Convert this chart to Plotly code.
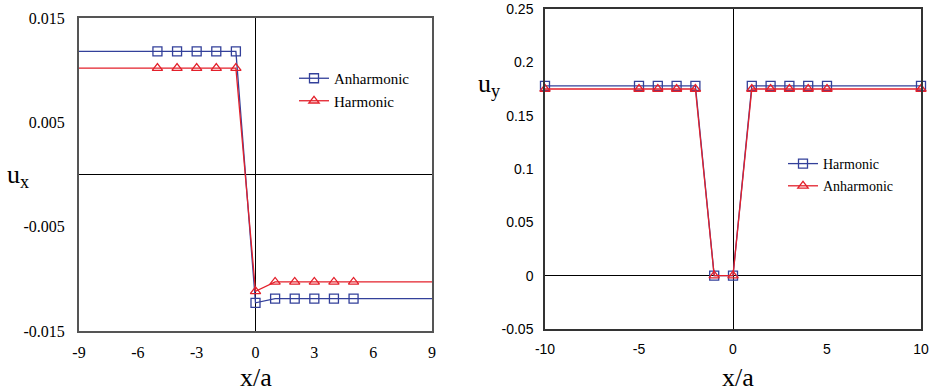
import plotly.graph_objects as go

# ---- data ----
x_pts = [-10, -5, -4, -3, -2, -1, 0, 1, 2, 3, 4, 5, 10]
ux_anharmonic = [0.0118, 0.0118, 0.0118, 0.0118, 0.0118, 0.0118, -0.0123,
                 -0.0119, -0.0119, -0.0119, -0.0119, -0.0119, -0.0119]
ux_harmonic = [0.0102, 0.0102, 0.0102, 0.0102, 0.0102, 0.0102, -0.0112,
               -0.0103, -0.0103, -0.0103, -0.0103, -0.0103, -0.0103]
uy_harmonic = [0.178, 0.178, 0.178, 0.178, 0.178, 0.0, 0.0,
               0.178, 0.178, 0.178, 0.178, 0.178, 0.178]
uy_anharmonic = [0.175, 0.175, 0.175, 0.175, 0.175, 0.0, 0.0,
                 0.175, 0.175, 0.175, 0.175, 0.175, 0.175]

left_xticks = [-9, -6, -3, 0, 3, 6, 9]
left_xlabels = ["-9", "-6", "-3", "0", "3", "6", "9"]
left_yticks = [0.015, 0.005, -0.005, -0.015]
left_ylabels = ["0.015", "0.005", "-0.005", "-0.015"]
right_xticks = [-10, -5, 0, 5, 10]
right_xlabels = ["-10", "-5", "0", "5", "10"]
right_yticks = [0.25, 0.2, 0.15, 0.1, 0.05, 0, -0.05]
right_ylabels = ["0.25", "0.2", "0.15", "0.1", "0.05", "0", "-0.05"]

BLUE = "#33409A"
RED = "#E3202B"
SERIF = "Liberation Serif, Times New Roman, serif"
SANS = "Liberation Sans, Arial, sans-serif"
W, H = 936, 391

L_range_x = [-9, 9]
L_range_y = [-0.015, 0.015]
R_range_x = [-10, 10]
R_range_y = [-0.05, 0.25]

L_dom_x = [79 / W, 432 / W]
L_dom_y = [1 - 331 / H, 1 - 18 / H]
R_dom_x = [545 / W, 921 / W]
R_dom_y = [1 - 329 / H, 1 - 9 / H]


def frac(v, rng, dom):
    return dom[0] + (v - rng[0]) / (rng[1] - rng[0]) * (dom[1] - dom[0])


fig = go.Figure()

fig.add_trace(go.Scatter(x=x_pts, y=ux_anharmonic, name="Anharmonic", mode="lines+markers",
                         line=dict(color=BLUE, width=1.3),
                         marker=dict(symbol="square-open", size=9, color=BLUE, line=dict(width=1.3)),
                         xaxis="x", yaxis="y", legend="legend", legendgroup="a"))
fig.add_trace(go.Scatter(x=x_pts, y=ux_harmonic, name="Harmonic", mode="lines+markers",
                         line=dict(color=RED, width=1.3),
                         marker=dict(symbol="triangle-up-open", size=9, color=RED, line=dict(width=1.3)),
                         xaxis="x", yaxis="y", legend="legend", legendgroup="b"))
fig.add_trace(go.Scatter(x=x_pts, y=uy_harmonic, name="Harmonic", mode="lines+markers",
                         line=dict(color=BLUE, width=1.3), cliponaxis=False,
                         marker=dict(symbol="square-open", size=9, color=BLUE, line=dict(width=1.3)),
                         xaxis="x2", yaxis="y2", legend="legend2", legendgroup="c"))
fig.add_trace(go.Scatter(x=x_pts, y=uy_anharmonic, name="Anharmonic", mode="lines+markers",
                         line=dict(color=RED, width=1.3), cliponaxis=False,
                         marker=dict(symbol="triangle-up-open", size=9, color=RED, line=dict(width=1.3)),
                         xaxis="x2", yaxis="y2", legend="legend2", legendgroup="d"))

frame_common = dict(showgrid=False, showline=True, mirror=True, ticks="", automargin=False,
                    zeroline=True, zerolinecolor="black", zerolinewidth=1.3)
tick_common = dict(ticks="outside", tickcolor="black", tickwidth=1, automargin=False,
                   showticklabels=False, showline=False, showgrid=False, zeroline=False)

fig.update_layout(
    width=W, height=H, margin=dict(l=0, r=0, t=0, b=0, autoexpand=False),
    paper_bgcolor="white", plot_bgcolor="white",
    xaxis=dict(domain=L_dom_x, range=L_range_x, anchor="y", tickvals=left_xticks,
               ticktext=left_xlabels, linecolor="#555555", linewidth=2, ticklabelstandoff=6,
               tickfont=dict(family=SERIF, size=16, color="black"), **frame_common),
    yaxis=dict(domain=L_dom_y, range=L_range_y, anchor="x", tickvals=left_yticks,
               ticktext=left_ylabels, linecolor="#555555", linewidth=2, ticklabelstandoff=9,
               tickfont=dict(family=SERIF, size=16, color="black"), **frame_common),
    xaxis2=dict(domain=R_dom_x, range=R_range_x, anchor="y2", tickvals=right_xticks,
                ticktext=right_xlabels, linecolor="#333333", linewidth=1.5, ticklabelstandoff=6,
                tickfont=dict(family=SANS, size=14, color="black"), **frame_common),
    yaxis2=dict(domain=R_dom_y, range=R_range_y, anchor="x2", tickvals=right_yticks,
                ticktext=right_ylabels, linecolor="#333333", linewidth=1.5, ticklabelstandoff=7,
                tickfont=dict(family=SANS, size=14, color="black"), **frame_common),
    # tick marks on the zero lines
    xaxis3=dict(overlaying="x", anchor="free", domain=L_dom_x, range=L_range_x,
                position=frac(0, L_range_y, L_dom_y), tickvals=[-6, -3, 3, 6],
                ticklen=5, **tick_common),
    yaxis3=dict(overlaying="y", anchor="free", domain=L_dom_y, range=L_range_y,
                position=frac(0, L_range_x, L_dom_x), tickvals=[0.005, -0.005],
                ticklen=5, **tick_common),
    xaxis4=dict(overlaying="x2", anchor="free", domain=R_dom_x, range=R_range_x,
                position=frac(0, R_range_y, R_dom_y), tickvals=[-5, 5],
                ticklen=4, **tick_common),
    yaxis4=dict(overlaying="y2", anchor="free", domain=R_dom_y, range=R_range_y,
                position=frac(0, R_range_x, R_dom_x), tickvals=[0.2, 0.15, 0.1, 0.05],
                ticklen=4, **tick_common),
    legend=dict(x=294 / W, y=1 - 62 / H, xanchor="left", yanchor="top",
                bgcolor="rgba(0,0,0,0)", tracegroupgap=0,
                font=dict(family=SERIF, size=15, color="black")),
    legend2=dict(x=783 / W, y=1 - 148 / H, xanchor="left", yanchor="top",
                 bgcolor="rgba(0,0,0,0)", tracegroupgap=1,
                 font=dict(family=SERIF, size=14, color="black")),
    annotations=[
        dict(text="x/a", x=256 / W, y=1 - 377 / H, xref="paper", yref="paper",
             xanchor="center", yanchor="middle",
             showarrow=False, font=dict(family=SERIF, size=26, color="black")),
        dict(text="x/a", x=738 / W, y=1 - 377 / H, xref="paper", yref="paper",
             xanchor="center", yanchor="middle",
             showarrow=False, font=dict(family=SERIF, size=26, color="black")),
        dict(text="u<sub>x</sub>", x=18 / W, y=1 - 176 / H, xref="paper", yref="paper",
             xanchor="center", yanchor="middle",
             showarrow=False, font=dict(family=SERIF, size=26, color="black")),
        dict(text="u<sub>y</sub>", x=489 / W, y=1 - 85 / H, xref="paper", yref="paper",
             xanchor="center", yanchor="middle",
             showarrow=False, font=dict(family=SERIF, size=26, color="black")),
    ],
)

fig.write_html("out.html")
